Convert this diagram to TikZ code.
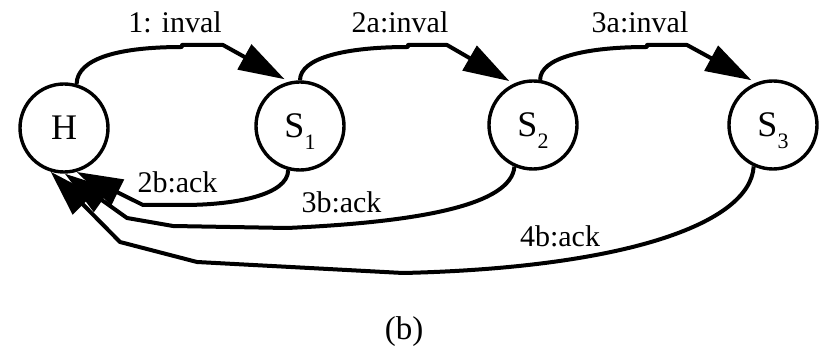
\documentclass[tikz,border=0pt]{standalone}
\usepackage{fontspec}
\setmainfont{Liberation Serif}
\usetikzlibrary{arrows.meta}
\newcommand\subtxt[1]{\smash{\raisebox{-12pt}{\fontsize{22}{22}\selectfont #1}}}
\begin{document}
\begin{tikzpicture}[x=1pt,y=-1pt,
  state/.style={circle,draw,line width=3.4pt,inner sep=0pt,minimum size=88pt,font=\fontsize{36}{36}\selectfont},
  msg/.style={line width=4pt,line join=round,-{Triangle[length=46pt,width=28pt]}},
  lab/.style={font=\fontsize{30}{30}\selectfont,anchor=base,inner sep=0pt}]
\useasboundingbox (0,0) rectangle (825,352);
\node[state] (H) at (64,128) {H};
\node[state] (S1) at (300,126) {S\subtxt{1}};
\node[state] (S2) at (533,125) {S\subtxt{2}};
\node[state] (S3) at (773,125) {S\subtxt{3}};
% invalidations
\draw[msg,shorten >=5pt] (H.74) .. controls (77,58) and (120,47) .. (182,47) -- (182,45) -- (223,45) -- (S1.104);
\draw[msg,shorten >=5pt] (S1.90) .. controls (300,58) and (345,47) .. (408,47) -- (408,45) -- (447,45) -- (S2.115);
\draw[msg,shorten >=5pt] (S2.81) .. controls (540,58) and (585,47) .. (647,47) -- (647,45) -- (687,45) -- (S3.112);
% acks
\draw[msg] (S1.255) .. controls (288,195) and (235,205) .. (183,205) -- (143,205) -- (H.286);
\draw[msg] (S2.246) .. controls (511,205) and (420,222) .. (287,228) -- (173,226) -- (127,218) -- (H.271);
\draw[msg] (S3.245) .. controls (750,225) and (620,268) .. (403,273) -- (197,262) -- (120,242) -- (H.253);
% labels
\node[lab] (l1) at (175,33) {1: inval};
\node[lab] (l2) at (400,33) {2a:inval};
\node[lab] (l3) at (640,33) {3a:inval};
\node[lab] (l4) at (177.5,193) {2b:ack};
\node[lab] (l5) at (341.5,213) {3b:ack};
\node[lab] (l6) at (560,247) {4b:ack};
\node[lab,font=\fontsize{33}{33}\selectfont] (cap) at (404,340) {(b)};
\end{tikzpicture}
\end{document}
